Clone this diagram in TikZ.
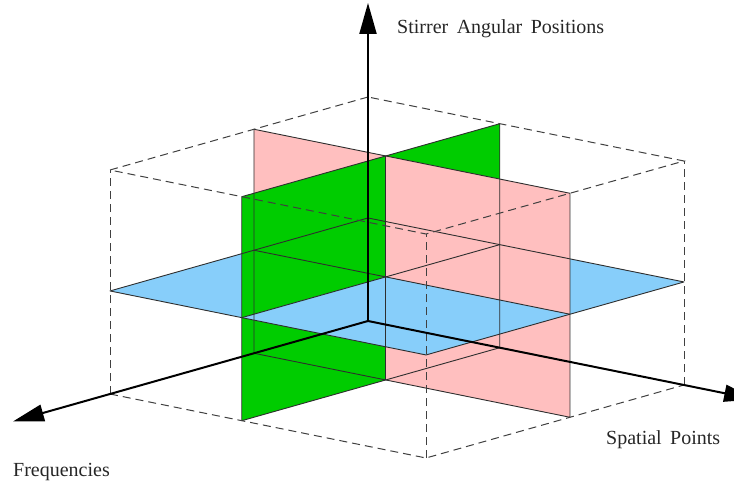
\documentclass[tikz,border=0pt]{standalone}
\usepackage{fontspec}
\setmainfont{Liberation Serif}[WordSpace=1.7]
\usetikzlibrary{arrows.meta}
\definecolor{plgreen}{RGB}{0,204,0}
\definecolor{plpink}{RGB}{255,191,191}
\definecolor{plblue}{RGB}{135,206,250}
\tikzset{
  pinkfill/.style={fill=plpink},
  greenfill/.style={fill=plgreen},
  bluefill/.style={fill=plblue},
  planeedge/.style={draw=black!82, line width=0.9pt, line join=round},
  boxedge/.style={draw=black!75, line width=1pt, dash pattern=on 8pt off 5pt},
  axisline/.style={draw=black, line width=2pt, -{Triangle[length=31pt,width=17pt]}},
  axislabel/.style={inner sep=0pt, anchor=base west, font=\fontsize{20}{24}\selectfont, text=black!85}
}
\begin{document}
\begin{tikzpicture}[x=1pt,y=1pt]
\useasboundingbox (0,0) rectangle (734,-481);
\def\xp{0.442}\def\yg{0.417}\def\zb{0.46}
\begin{scope}[shift={(368pt,-321pt)}, x={(-258pt,-73pt)}, y={(316pt,-64pt)}, z={(0pt,224pt)}]
  % back pieces
  \fill[pinkfill] (\xp,0,0) -- (\xp,\yg,0) -- (\xp,\yg,\zb) -- (\xp,0,\zb) -- cycle;
  \fill[greenfill] (0,\yg,0) -- (\xp,\yg,0) -- (\xp,\yg,\zb) -- (0,\yg,\zb) -- cycle;
  \fill[bluefill] (0,0,\zb) -- (\xp,0,\zb) -- (\xp,\yg,\zb) -- (0,\yg,\zb) -- cycle;
  % middle pieces
  \fill[pinkfill] (\xp,\yg,0) -- (\xp,1,0) -- (\xp,1,\zb) -- (\xp,\yg,\zb) -- cycle;
  \fill[pinkfill] (\xp,0,\zb) -- (\xp,\yg,\zb) -- (\xp,\yg,1) -- (\xp,0,1) -- cycle;
  \fill[greenfill] (\xp,\yg,0) -- (1,\yg,0) -- (1,\yg,\zb) -- (\xp,\yg,\zb) -- cycle;
  \fill[greenfill] (0,\yg,\zb) -- (\xp,\yg,\zb) -- (\xp,\yg,1) -- (0,\yg,1) -- cycle;
  \fill[bluefill] (\xp,0,\zb) -- (1,0,\zb) -- (1,\yg,\zb) -- (\xp,\yg,\zb) -- cycle;
  \fill[bluefill] (0,\yg,\zb) -- (\xp,\yg,\zb) -- (\xp,1,\zb) -- (0,1,\zb) -- cycle;
  % front pieces
  \fill[pinkfill] (\xp,\yg,\zb) -- (\xp,1,\zb) -- (\xp,1,1) -- (\xp,\yg,1) -- cycle;
  \fill[greenfill] (\xp,\yg,\zb) -- (1,\yg,\zb) -- (1,\yg,1) -- (\xp,\yg,1) -- cycle;
  \fill[bluefill] (\xp,\yg,\zb) -- (1,\yg,\zb) -- (1,1,\zb) -- (\xp,1,\zb) -- cycle;
  % plane outlines and intersections
  \path[planeedge] (\xp,0,0) -- (\xp,1,0) -- (\xp,1,1) -- (\xp,0,1) -- cycle;
  \path[planeedge] (0,\yg,0) -- (1,\yg,0) -- (1,\yg,1) -- (0,\yg,1) -- cycle;
  \path[planeedge] (0,0,\zb) -- (1,0,\zb) -- (1,1,\zb) -- (0,1,\zb) -- cycle;
  \path[planeedge] (\xp,\yg,0) -- (\xp,\yg,1);
  \path[planeedge] (\xp,0,\zb) -- (\xp,1,\zb);
  \path[planeedge] (0,\yg,\zb) -- (1,\yg,\zb);
  % dashed box
  \path[boxedge] (0,0,1) -- (1,0,1) -- (1,1,1) -- (0,1,1) -- cycle;
  \path[boxedge] (1,0,0) -- (1,0,1);
  \path[boxedge] (1,1,0) -- (1,1,1);
  \path[boxedge] (0,1,0) -- (0,1,1);
  \path[boxedge] (1,0,0) -- (1,1,0) -- (0,1,0);
  % axes
  \coordinate (O) at (0,0,0);
  \coordinate (ztip) at (0,0,1.42);
  \coordinate (xtip) at (1.376,0,0);
  \coordinate (ytip) at (0,1.225,0);
  \path[axisline] (O) -- (ztip);
  \path[axisline] (O) -- (xtip);
  \path[axisline] (O) -- (ytip);
\end{scope}
\node[axislabel] (lz) at (397,-34) {Stirrer Angular Positions};
\node[axislabel] (lx) at (13,-476) {Frequencies};
\node[axislabel] (ly) at (606,-444) {Spatial Points};
\end{tikzpicture}
\end{document}
